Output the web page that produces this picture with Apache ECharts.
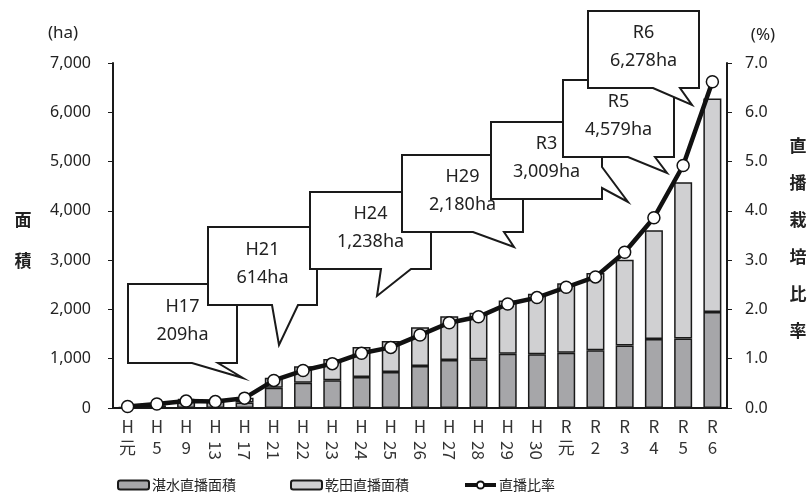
<!DOCTYPE html>
<html>
<head>
<meta charset="utf-8">
<script src="https://cdn.jsdelivr.net/npm/echarts@6/dist/echarts.min.js"></script>
<style>
  html, body { margin: 0; padding: 0; background: #fff; }
  #main { width: 811px; height: 496px; }
</style>
</head>
<body>
<div id="main"></div>
<script>
// 年次
const categories = ['H元', 'H5', 'H9', 'H13', 'H17', 'H21', 'H22', 'H23', 'H24', 'H25', 'H26',
  'H27', 'H28', 'H29', 'H30', 'R元', 'R2', 'R3', 'R4', 'R5', 'R6']
// 湛水直播面積 (ha)
const tansuiArea = [10, 40, 160, 130, 110, 410, 510, 565, 630, 730, 850, 975, 990, 1100, 1090, 1120, 1170, 1270, 1400, 1410, 1950]
// 乾田直播面積 (ha)
const kandenArea = [0, 0, 30, 30, 99, 204, 339, 428, 608, 630, 787, 885, 945, 1080, 1230, 1413, 1567, 1739, 2204, 3169, 4328]
// 直播比率 (%)
const ratio = [0.03, 0.08, 0.14, 0.13, 0.2, 0.56, 0.76, 0.9, 1.11, 1.23, 1.48, 1.73, 1.85, 2.11, 2.24, 2.45, 2.66, 3.16, 3.86, 4.92, 6.62]
// 吹き出しを付ける年次
const calloutCats = ['H17', 'H21', 'H24', 'H29', 'R3', 'R5', 'R6']
const leftTicks = [0, 7000, 1000]
const rightTicks = [0, 7, 1]

// 吹き出しの配置 [左, 上, 右, 下], 尾の根元と先端
const calloutLayout = [
  { box: [128, 284, 237, 363], side: 'bottom', base: [192, 218], tip: [243, 378] },
  { box: [208, 227, 317, 305], side: 'bottom', base: [272, 298], tip: [279, 345] },
  { box: [310, 192, 431, 269], side: 'bottom', base: [381, 411], tip: [377, 296] },
  { box: [402, 155, 523, 232], side: 'bottom', base: [473, 504], tip: [514, 247] },
  { box: [491, 122, 602, 199], side: 'right', base: [167, 188], tip: [628, 202] },
  { box: [563, 80, 674, 157], side: 'bottom', base: [628, 655], tip: [667, 173] },
  { box: [588, 11, 699, 88], side: 'bottom', base: [653, 680], tip: [692, 105] }
]

const FONT = "'Noto Sans', 'Noto Sans CJK JP', sans-serif"
const JP = "'Noto Sans CJK JP', sans-serif"
const INK = '#1a1a1a'

function fmt (v) {
  return String(v).replace(/\B(?=(\d{3})+(?!\d))/g, ',')
}

function bubblePoints (c) {
  const [l, t, r, b] = c.box
  if (c.side === 'right') {
    return [[l, t], [r, t], [r, c.base[0]], c.tip, [r, c.base[1]], [r, b], [l, b]]
  }
  return [[l, t], [r, t], [r, b], [c.base[1], b], c.tip, [c.base[0], b], [l, b]]
}

function buildGraphic () {
  const els = []
  calloutCats.forEach((cat, i) => {
    const c = calloutLayout[i]
    const idx = categories.indexOf(cat)
    const total = tansuiArea[idx] + kandenArea[idx]
    els.push({
      type: 'polygon',
      z: 100,
      shape: { points: bubblePoints(c) },
      style: { fill: '#fff', stroke: INK, lineWidth: 2 }
    })
    els.push({
      type: 'text',
      z: 101,
      x: (c.box[0] + c.box[2]) / 2,
      y: (c.box[1] + c.box[3]) / 2 - 2.5,
      style: {
        text: cat + '\n' + fmt(total) + 'ha',
        font: '18px ' + FONT,
        fill: '#222',
        align: 'center',
        verticalAlign: 'middle',
        lineHeight: 28
      }
    })
  })
  // 軸の単位と縦書きタイトル
  els.push({ type: 'text', x: 63, y: 33, style: { text: '(ha)', font: '17px ' + FONT, fill: '#222', align: 'center', verticalAlign: 'middle' } })
  els.push({ type: 'text', x: 763, y: 35, style: { text: '(%)', font: '17px ' + FONT, fill: '#222', align: 'center', verticalAlign: 'middle' } })
  els.push({ type: 'text', x: 23, y: 240, style: { text: '面\n積', font: 'bold 17px ' + JP, fill: '#222', align: 'center', verticalAlign: 'middle', lineHeight: 41 } })
  els.push({ type: 'text', x: 798, y: 238, style: { text: '直\n播\n栽\n培\n比\n率', font: 'bold 17px ' + JP, fill: '#222', align: 'center', verticalAlign: 'middle', lineHeight: 37 } })
  return els
}

const chart = echarts.init(document.getElementById('main'))

const option = {
  animation: false,
  textStyle: { fontFamily: FONT },
  grid: { left: 113, right: 84, top: 63, bottom: 88, outerBoundsMode: 'none' },
  legend: {
    left: 117,
    top: 478,
    padding: 0,
    itemGap: 54,
    itemWidth: 31,
    itemHeight: 9,
    selectedMode: false,
    textStyle: { fontFamily: JP, fontSize: 14, color: '#222', padding: [0, 0, 0, -2] },
    data: ['湛水直播面積', '乾田直播面積', { name: '直播比率', lineStyle: { width: 4 } }]
  },
  xAxis: [
    {
      type: 'category',
      data: categories,
      axisLine: { lineStyle: { color: INK, width: 2 } },
      axisTick: { show: false },
      axisLabel: {
        interval: 0,
        margin: 8,
        color: '#333',
        fontFamily: JP,
        fontSize: 17,
        lineHeight: 21,
        formatter: v => (v.length === 2 ? v[0] + '\n' + v[1] : v[0])
      }
    },
    {
      // 二桁の数字は横倒し
      type: 'category',
      data: categories,
      position: 'bottom',
      axisLine: { show: false },
      axisTick: { show: false },
      splitLine: { show: false },
      axisLabel: {
        interval: 0,
        margin: 33,
        rotate: -90,
        color: '#333',
        fontFamily: JP,
        fontSize: 17,
        formatter: v => (v.length === 3 ? v.slice(1) : '')
      }
    }
  ],
  yAxis: [
    {
      type: 'value',
      min: leftTicks[0],
      max: leftTicks[1],
      interval: leftTicks[2],
      axisLine: { show: true, lineStyle: { color: INK, width: 2 } },
      axisTick: { show: true, length: 5, lineStyle: { color: INK, width: 1 } },
      splitLine: { show: false },
      axisLabel: { margin: 22, color: '#222', fontSize: 16, formatter: v => fmt(v) }
    },
    {
      type: 'value',
      position: 'right',
      min: rightTicks[0],
      max: rightTicks[1],
      interval: rightTicks[2],
      axisLine: { show: true, lineStyle: { color: INK, width: 2 } },
      axisTick: { show: true, length: 5, lineStyle: { color: INK, width: 1 } },
      splitLine: { show: false },
      axisLabel: { margin: 18, color: '#222', fontSize: 16, formatter: v => v.toFixed(1) }
    }
  ],
  series: [
    {
      name: '湛水直播面積',
      type: 'bar',
      stack: 'area',
      barWidth: 18,
      data: tansuiArea,
      itemStyle: { color: '#a6a6a9', borderColor: INK, borderWidth: 1.5 }
    },
    {
      name: '乾田直播面積',
      type: 'bar',
      stack: 'area',
      barWidth: 18,
      data: kandenArea,
      itemStyle: { color: '#d0d0d2', borderColor: INK, borderWidth: 1.5 }
    },
    {
      name: '直播比率',
      type: 'line',
      yAxisIndex: 1,
      data: ratio,
      z: 5,
      symbol: 'circle',
      symbolSize: 12,
      lineStyle: { color: '#111', width: 4.5 },
      itemStyle: { color: '#fff', borderColor: '#111', borderWidth: 1.5 }
    }
  ],
  graphic: buildGraphic()
}

chart.setOption(option)
</script>
</body>
</html>
